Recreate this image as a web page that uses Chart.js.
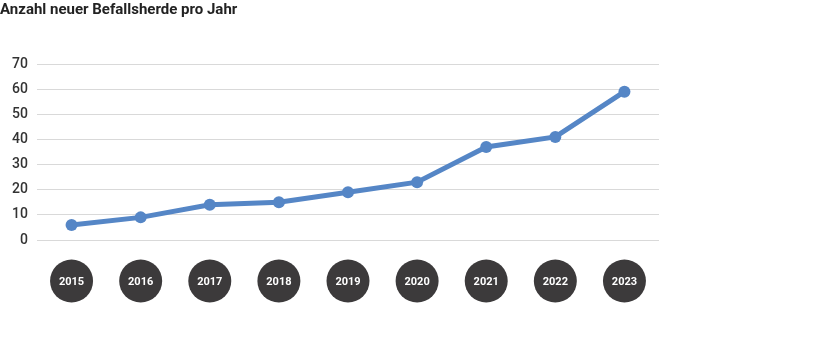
<!DOCTYPE html>
<html>
<head>
<meta charset="utf-8">
<script src="https://cdn.jsdelivr.net/npm/chart.js@4"></script>
<style>
  html, body { margin: 0; padding: 0; background: #fff; }
  #wrap { width: 836px; height: 348px; position: relative; }
</style>
</head>
<body>
<div id="wrap"><canvas id="befallChart"></canvas></div>
<script>
const years = ['2015', '2016', '2017', '2018', '2019', '2020', '2021', '2022', '2023'];
const newOutbreaks = [6, 9, 14, 15, 19, 23, 37, 41, 59];
const yTicks = [0, 10, 20, 30, 40, 50, 60, 70];

const lineBlue = '#5586c6';
const bubbleGrey = '#3c3a3b';

// dark round year badges under the axis
const yearBubbles = {
  id: 'yearBubbles',
  afterDraw(chart) {
    const ctx = chart.ctx;
    const xScale = chart.scales.x;
    ctx.save();
    years.forEach((year, i) => {
      const x = xScale.getPixelForValue(i);
      const y = 281;
      ctx.beginPath();
      ctx.arc(x, y, 21.5, 0, Math.PI * 2);
      ctx.fillStyle = bubbleGrey;
      ctx.fill();
      ctx.fillStyle = '#ffffff';
      ctx.font = 'bold 11px Roboto, sans-serif';
      ctx.textAlign = 'center';
      ctx.textBaseline = 'middle';
      ctx.fillText(year, x, y + 1);
    });
    ctx.restore();
  }
};

const ctx = document.getElementById('befallChart').getContext('2d');
new Chart(ctx, {
  type: 'line',
  data: {
    labels: years,
    datasets: [{
      label: 'Anzahl neuer Befallsherde',
      data: newOutbreaks,
      borderColor: lineBlue,
      backgroundColor: lineBlue,
      borderWidth: 5,
      pointRadius: 6,
      pointBorderWidth: 0,
      pointHoverRadius: 6,
      tension: 0
    }]
  },
  options: {
    responsive: true,
    maintainAspectRatio: false,
    animation: false,
    layout: { padding: { left: 0, right: 177, top: 0, bottom: 108 } },
    plugins: {
      legend: { display: false },
      tooltip: { enabled: false },
      title: {
        display: true,
        text: 'Anzahl neuer Befallsherde pro Jahr',
        align: 'start',
        color: '#222',
        font: { family: 'Roboto, sans-serif', size: 15, weight: 'bold' },
        padding: { top: 1, bottom: 45 }
      }
    },
    scales: {
      x: {
        display: false,
        offset: true
      },
      y: {
        min: 0,
        max: 70,
        afterBuildTicks(scale) {
          scale.ticks = yTicks.map(v => ({ value: v }));
        },
        afterFit(scale) {
          scale.width = 37;
        },
        border: { display: false },
        grid: { color: '#d9d9d9', lineWidth: 1, drawTicks: false },
        ticks: {
          padding: 9,
          color: '#333',
          font: { family: 'Roboto, sans-serif', size: 14, weight: '500' }
        }
      }
    }
  },
  plugins: [yearBubbles]
});
</script>
</body>
</html>
